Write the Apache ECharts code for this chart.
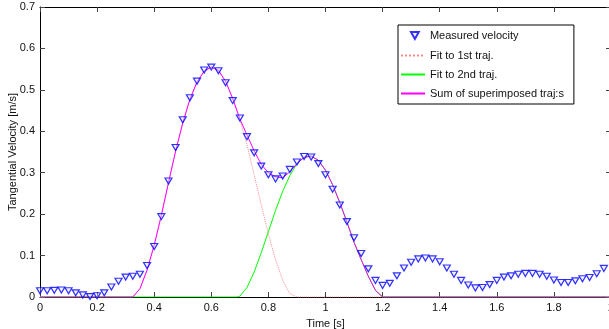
<!DOCTYPE html>
<html lang="en">
<head>
    <meta charset="UTF-8">
    <title>Tangential velocity</title>
    <script type="text/javascript" src="https://cdn.jsdelivr.net/npm/echarts@6/dist/echarts.min.js"></script>
    <style>
        *{
            margin:0;
            padding:0;
        }
        #main {
            width:609px;
            height:329px;
            background-color:#fff;
        }
    </style>
</head>
<body>
<div id="main"></div>
<script type="text/javascript">
    // measured velocity samples [time s, velocity m/s]
    var measured = [
        [0,0.015],[0.025,0.015],[0.05,0.016],[0.075,0.017],[0.1,0.015],[0.125,0.010],[0.15,0.005],[0.175,0.001],
        [0.2,0.003],[0.225,0.010],[0.25,0.024],[0.275,0.038],[0.3,0.048],[0.325,0.050],[0.35,0.055],[0.375,0.076],
        [0.4,0.122],[0.425,0.194],[0.45,0.280],[0.475,0.361],[0.5,0.428],[0.525,0.481],[0.55,0.521],[0.575,0.548],
        [0.6,0.555],[0.625,0.546],[0.65,0.517],[0.675,0.474],[0.7,0.432],[0.725,0.387],[0.75,0.348],[0.775,0.316],
        [0.8,0.295],[0.825,0.285],[0.85,0.292],[0.875,0.308],[0.9,0.326],[0.925,0.339],[0.95,0.338],[0.975,0.322],
        [1.0,0.295],[1.025,0.260],[1.05,0.222],[1.075,0.182],[1.1,0.143],[1.125,0.105],[1.15,0.068],[1.175,0.040],
        [1.2,0.028],[1.225,0.033],[1.25,0.051],[1.275,0.070],[1.3,0.084],[1.325,0.092],[1.35,0.094],[1.375,0.092],
        [1.4,0.085],[1.425,0.070],[1.45,0.055],[1.475,0.040],[1.5,0.029],[1.525,0.022],[1.55,0.023],[1.575,0.030],
        [1.6,0.040],[1.625,0.048],[1.65,0.051],[1.675,0.055],[1.7,0.057],[1.725,0.057],[1.75,0.055],[1.775,0.050],
        [1.8,0.041],[1.825,0.035],[1.85,0.035],[1.875,0.039],[1.9,0.044],[1.925,0.047],[1.95,0.056],[1.975,0.069]
    ];

    // fit to 1st trajectory
    var fit1 = [
        [0,0],[0.325,0],[0.35,0.02],[0.375,0.065],[0.4,0.125],[0.425,0.197],[0.45,0.276],[0.475,0.352],
        [0.5,0.42],[0.525,0.477],[0.55,0.519],[0.575,0.545],[0.6,0.555],[0.625,0.547],[0.65,0.521],[0.675,0.479],
        [0.7,0.428],[0.725,0.368],[0.75,0.295],[0.775,0.222],[0.8,0.152],[0.825,0.09],[0.85,0.04],[0.875,0.008],
        [0.9,0],[2,0]
    ];

    // fit to 2nd trajectory
    var fit2 = [
        [0,0],[0.69,0],[0.7,0.002],[0.725,0.023],[0.75,0.06],[0.775,0.107],[0.8,0.158],[0.825,0.209],
        [0.85,0.255],[0.875,0.293],[0.9,0.322],[0.925,0.337],[0.95,0.34],[0.975,0.33],[1.0,0.306],[1.025,0.271],
        [1.05,0.228],[1.075,0.181],[1.1,0.132],[1.125,0.09],[1.15,0.05],[1.175,0.016],[1.2,0],[2,0]
    ];

    // sum of superimposed trajectories
    var fitSum = [
        [0,0],[0.325,0],[0.35,0.02],[0.375,0.065],[0.4,0.125],[0.425,0.197],[0.45,0.276],[0.475,0.352],
        [0.5,0.42],[0.525,0.477],[0.55,0.519],[0.575,0.545],[0.6,0.555],[0.625,0.547],[0.65,0.521],[0.675,0.479],
        [0.7,0.430],[0.725,0.391],[0.75,0.353],[0.775,0.32],[0.8,0.30],[0.825,0.29],[0.85,0.288],[0.875,0.302],
        [0.9,0.322],[0.925,0.337],[0.95,0.34],[0.975,0.33],[1.0,0.306],[1.025,0.271],[1.05,0.228],[1.075,0.181],
        [1.1,0.132],[1.125,0.09],[1.15,0.05],[1.175,0.016],[1.2,0],[2,0]
    ];

    var legendNames = ['Measured velocity', 'Fit to 1st traj.', 'Fit to 2nd traj.', 'Sum of superimposed traj:s'];

    var font = 'Liberation Sans, Arial, sans-serif';
    var axisCol = '#000';
    var triangle = 'path://M0,0L10,0L5,9Z';

    var myChart = echarts.init(document.getElementById('main'));

    var boxAxis = function(pos, isX, showLab) {
        return {
            type: 'value',
            position: pos,
            min: 0,
            max: isX ? 2 : 0.7,
            interval: isX ? 0.2 : 0.1,
            axisLine: { show: true, onZero: false, lineStyle: { color: axisCol, width: 1 } },
            axisTick: { show: true, inside: true, length: 5, lineStyle: { color: '#444' } },
            axisLabel: { show: showLab, color: '#111', fontSize: 11, fontFamily: font, margin: 5 },
            splitLine: { show: false }
        };
    };

    var xBottom = boxAxis('bottom', true, true);
    xBottom.name = 'Time [s]';
    xBottom.nameLocation = 'middle';
    xBottom.nameGap = 21;
    xBottom.nameTextStyle = { color: '#111', fontSize: 11, fontFamily: font };

    var yLeft = boxAxis('left', false, true);
    yLeft.name = 'Tangential Velocity [m/s]';
    yLeft.nameLocation = 'middle';
    yLeft.nameGap = 22;
    yLeft.nameMoveOverlap = false;
    yLeft.nameTextStyle = { color: '#111', fontSize: 11, fontFamily: font };

    // boxed legend holds the three fit lines; the marker row sits on top of it in its own legend
    var noSym = { opacity: 0 };
    var lineLegend = [
        { name: legendNames[1], itemStyle: noSym },
        { name: legendNames[2], itemStyle: noSym },
        { name: legendNames[3], itemStyle: noSym }
    ];

    var option = {
        animation: false,
        grid: { left: 40, top: 7, width: 571, height: 290, containLabel: false, outerBoundsMode: 'none' },
        xAxis: [xBottom, boxAxis('top', true, false)],
        yAxis: [yLeft, boxAxis('right', false, false)],
        legend: [
            {
                data: lineLegend,
                orient: 'vertical',
                left: 398,
                top: 25,
                itemWidth: 24,
                itemHeight: 10,
                itemGap: 8,
                padding: [25, 10, 5, 2],
                borderColor: '#000',
                borderWidth: 1,
                backgroundColor: '#fff',
                textStyle: { color: '#111', fontSize: 11, fontFamily: font }
            },
            {
                data: [legendNames[0]],
                left: 410,
                top: 30,
                padding: 0,
                z: 10,
                itemWidth: 8,
                itemHeight: 7,
                textStyle: { color: '#111', fontSize: 11, fontFamily: font, padding: [0, 0, 0, 6] }
            }
        ],
        series: [
            {
                name: legendNames[0],
                type: 'scatter',
                data: measured,
                symbol: triangle,
                symbolSize: [7, 6],
                itemStyle: { color: 'rgba(220,220,255,0.5)', borderColor: '#0000ff', borderWidth: 1.2 },
                z: 3
            },
            {
                name: legendNames[1],
                type: 'line',
                data: fit1,
                showSymbol: false,
                symbol: 'none',
                lineStyle: { color: '#ff8c8c', width: 1, type: 'dotted' },
                itemStyle: { color: '#ff8c8c' }
            },
            {
                name: legendNames[2],
                type: 'line',
                data: fit2,
                showSymbol: false,
                symbol: 'none',
                lineStyle: { color: '#00ff00', width: 1 },
                itemStyle: { color: '#00ff00' }
            },
            {
                name: legendNames[3],
                type: 'line',
                data: fitSum,
                showSymbol: false,
                symbol: 'none',
                lineStyle: { color: '#ff00ff', width: 1 },
                itemStyle: { color: '#ff00ff' }
            }
        ]
    };

    myChart.setOption(option);
</script>
</body>
</html>
